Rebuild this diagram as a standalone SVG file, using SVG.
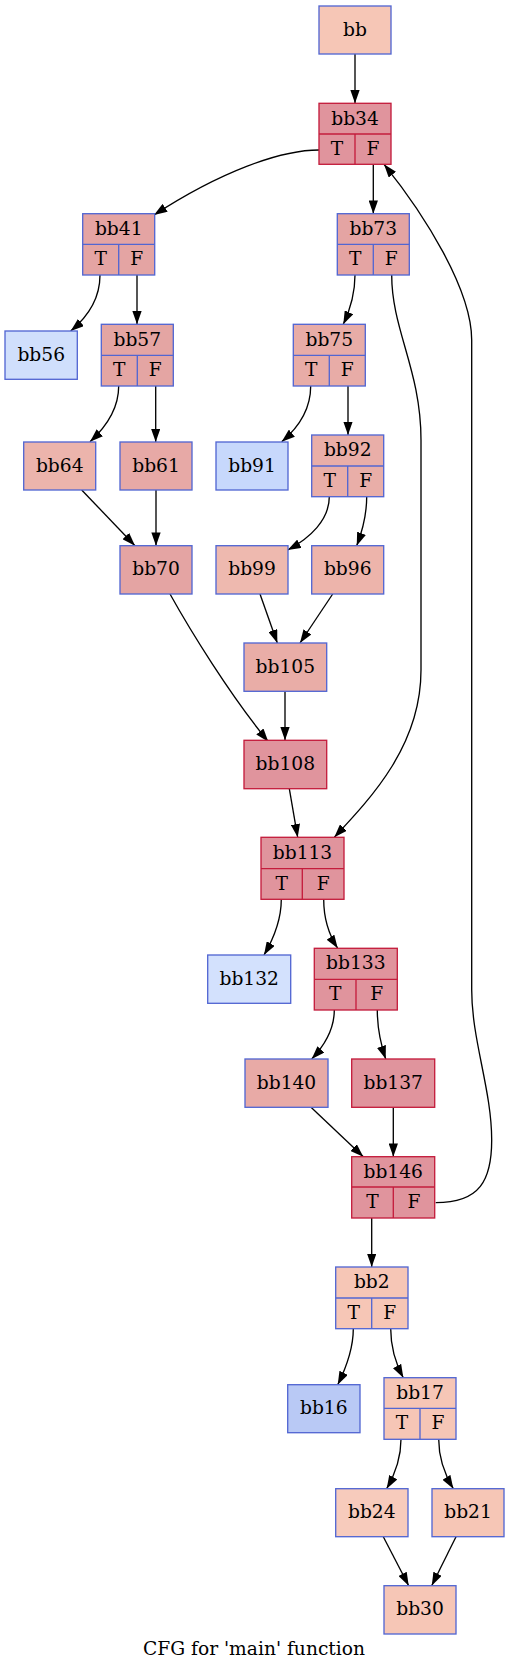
<svg xmlns="http://www.w3.org/2000/svg" width="509" height="1671" viewBox="0 0 509 1671">
<style>
text{font-family:"DejaVu Serif","Liberation Serif",serif;font-size:18.67px;text-anchor:middle;fill:#000}
.n rect,.n line{stroke-width:1.33}
.b rect,.b line{stroke:#5266d2}
.r rect,.r line{stroke:#c41c3c}
.e path{fill:none;stroke:#000;stroke-width:1.33}
</style>
<defs>
<marker id="a" viewBox="0 0 10 7" refX="10" refY="3.5" markerWidth="13.3" markerHeight="9.3" markerUnits="userSpaceOnUse" orient="auto">
<path d="M0,0 L10,3.5 L0,7 z" fill="#000"/>
</marker>
</defs>
<rect width="509" height="1671" fill="#fff"/>
<g class="e">
<path d="M355,54 L355,103.3" marker-end="url(#a)"/>
<path d="M319,150 C280,150 220,172 154,215" marker-end="url(#a)"/>
<path d="M373.3,164.3 L373.3,213.7" marker-end="url(#a)"/>
<path d="M435.7,1202.7 C480,1202.7 491.7,1180 491.7,1140 C491.7,1090 471.7,1040 471.7,990 L471.7,340 C471.7,290 425,215 384,164.3" marker-end="url(#a)"/>
<path d="M100,275 C100,295 90,315 70.7,331" marker-end="url(#a)"/>
<path d="M137,275 L137,324.3" marker-end="url(#a)"/>
<path d="M355,275 C355,295 350,310 343.3,324.3" marker-end="url(#a)"/>
<path d="M391.7,275 C391.7,330 421,370 421,440 L421,670 C421,745 372,797 334.3,837.3" marker-end="url(#a)"/>
<path d="M118.7,386 C118.7,410 105,428 90,441.7" marker-end="url(#a)"/>
<path d="M155.7,386 L155.7,442" marker-end="url(#a)"/>
<path d="M310.7,386 C310.7,410 298,428 281.7,441.7" marker-end="url(#a)"/>
<path d="M348,386 L348,435" marker-end="url(#a)"/>
<path d="M81.7,490 L135,545.7" marker-end="url(#a)"/>
<path d="M156,490 L156,545.7" marker-end="url(#a)"/>
<path d="M329.3,496.7 C329.3,520 310,538 287.7,550" marker-end="url(#a)"/>
<path d="M366.7,496.7 C366.7,515 362,532 356.7,545.7" marker-end="url(#a)"/>
<path d="M170,594 C190,630 230,695 268.3,741.7" marker-end="url(#a)"/>
<path d="M260,594 L277.3,643" marker-end="url(#a)"/>
<path d="M332.7,594 L300,643" marker-end="url(#a)"/>
<path d="M285,691.3 L285,740.3" marker-end="url(#a)"/>
<path d="M289.3,788.7 L297.7,837.3" marker-end="url(#a)"/>
<path d="M281.3,899.3 C281.3,920 274,938 264,955" marker-end="url(#a)"/>
<path d="M323.7,899.3 C323.7,918 329,935 337.7,948.3" marker-end="url(#a)"/>
<path d="M334.3,1010 C334.3,1030 324,1046 311.7,1059" marker-end="url(#a)"/>
<path d="M377.3,1010 C377.3,1028 381,1045 385.7,1059" marker-end="url(#a)"/>
<path d="M311,1107.3 L363.3,1156.7" marker-end="url(#a)"/>
<path d="M393.3,1107.3 L393.3,1156.7" marker-end="url(#a)"/>
<path d="M371.7,1218 L371.7,1267" marker-end="url(#a)"/>
<path d="M353.3,1328.7 C353.3,1350 346,1368 337.7,1384.7" marker-end="url(#a)"/>
<path d="M390.7,1328.7 C390.7,1348 396,1364 403.3,1377.7" marker-end="url(#a)"/>
<path d="M401,1439.3 C401,1460 394,1476 386.7,1488.7" marker-end="url(#a)"/>
<path d="M438.7,1439.3 C438.7,1458 445,1475 453.3,1488.7" marker-end="url(#a)"/>
<path d="M383.3,1536.7 L408.7,1585.7" marker-end="url(#a)"/>
<path d="M456,1536.7 L431.7,1585.7" marker-end="url(#a)"/>
</g>

<g id="bb" class="n b"><rect x="319" y="6" width="72" height="48" fill="#f6c6b6"/><text x="355" y="35.5">bb</text></g>
<g id="bb34" class="n r"><rect x="319" y="103.3" width="72" height="61" fill="#e0949d"/><line x1="319" y1="134" x2="391" y2="134"/><line x1="355" y1="134" x2="355" y2="164.3"/><text x="355" y="124.5">bb34</text><text x="337" y="154.8">T</text><text x="373" y="154.8">F</text></g>
<g id="bb41" class="n b"><rect x="82.7" y="213.7" width="72" height="61.3" fill="#e4a4a3"/><line x1="82.7" y1="244.3" x2="154.7" y2="244.3"/><line x1="118.7" y1="244.3" x2="118.7" y2="275"/><text x="118.7" y="234.8">bb41</text><text x="100.7" y="265.2">T</text><text x="136.7" y="265.2">F</text></g>
<g id="bb73" class="n b"><rect x="337.3" y="213.7" width="72" height="61.3" fill="#e4a4a3"/><line x1="337.3" y1="244.3" x2="409.3" y2="244.3"/><line x1="373.3" y1="244.3" x2="373.3" y2="275"/><text x="373.3" y="234.8">bb73</text><text x="355.3" y="265.2">T</text><text x="391.3" y="265.2">F</text></g>
<g id="bb56" class="n b"><rect x="5" y="331" width="72.3" height="48.3" fill="#d0dffc"/><text x="41.2" y="360.8">bb56</text></g>
<g id="bb57" class="n b"><rect x="101.3" y="324.3" width="72" height="61.7" fill="#e4a5a3"/><line x1="101.3" y1="355.3" x2="173.3" y2="355.3"/><line x1="137.3" y1="355.3" x2="137.3" y2="386"/><text x="137.3" y="345.5">bb57</text><text x="119.3" y="376.2">T</text><text x="155.3" y="376.2">F</text></g>
<g id="bb75" class="n b"><rect x="293.3" y="324.3" width="72" height="61.7" fill="#e8aca7"/><line x1="293.3" y1="355.3" x2="365.3" y2="355.3"/><line x1="329.3" y1="355.3" x2="329.3" y2="386"/><text x="329.3" y="345.5">bb75</text><text x="311.3" y="376.2">T</text><text x="347.3" y="376.2">F</text></g>
<g id="bb64" class="n b"><rect x="23.7" y="442" width="72" height="48" fill="#ecb4ac"/><text x="59.7" y="471.6">bb64</text></g>
<g id="bb61" class="n b"><rect x="120" y="442" width="72" height="48" fill="#e7a9a6"/><text x="156" y="471.6">bb61</text></g>
<g id="bb91" class="n b"><rect x="216" y="442" width="72" height="48" fill="#c7d8fc"/><text x="252" y="471.6">bb91</text></g>
<g id="bb92" class="n b"><rect x="311.7" y="435" width="72" height="61.7" fill="#e9aea8"/><line x1="311.7" y1="466" x2="383.7" y2="466"/><line x1="347.7" y1="466" x2="347.7" y2="496.7"/><text x="347.7" y="456.2">bb92</text><text x="329.7" y="486.9">T</text><text x="365.7" y="486.9">F</text></g>
<g id="bb70" class="n b"><rect x="120" y="545.7" width="72" height="48.3" fill="#e4a4a3"/><text x="156" y="575.4">bb70</text></g>
<g id="bb99" class="n b"><rect x="216" y="545.7" width="72" height="48.3" fill="#eeb9af"/><text x="252" y="575.4">bb99</text></g>
<g id="bb96" class="n b"><rect x="311.7" y="545.7" width="72" height="48.3" fill="#edb4ab"/><text x="347.7" y="575.4">bb96</text></g>
<g id="bb105" class="n b"><rect x="244" y="643" width="82.7" height="48.3" fill="#e9ada7"/><text x="285.3" y="672.7">bb105</text></g>
<g id="bb108" class="n r"><rect x="244" y="740.3" width="82.7" height="48.4" fill="#e0949d"/><text x="285.3" y="770">bb108</text></g>
<g id="bb113" class="n r"><rect x="261" y="837.3" width="83" height="62" fill="#e0949d"/><line x1="261" y1="868.7" x2="344" y2="868.7"/><line x1="302.3" y1="868.7" x2="302.3" y2="899.3"/><text x="302.5" y="858.6">bb113</text><text x="281.7" y="889.6">T</text><text x="323.2" y="889.6">F</text></g>
<g id="bb132" class="n b"><rect x="207.7" y="955" width="83" height="48.3" fill="#d3e1fd"/><text x="249.2" y="984.7">bb132</text></g>
<g id="bb133" class="n r"><rect x="314.3" y="948.3" width="83" height="61.7" fill="#e0949d"/><line x1="314.3" y1="979.3" x2="397.3" y2="979.3"/><line x1="356" y1="979.3" x2="356" y2="1010"/><text x="355.8" y="969.4">bb133</text><text x="335.2" y="1000.2">T</text><text x="376.7" y="1000.2">F</text></g>
<g id="bb140" class="n b"><rect x="245" y="1059" width="83" height="48.3" fill="#e8aaa6"/><text x="286.5" y="1088.7">bb140</text></g>
<g id="bb137" class="n r"><rect x="351.7" y="1059" width="83" height="48.3" fill="#e0949d"/><text x="393.2" y="1088.7">bb137</text></g>
<g id="bb146" class="n r"><rect x="351.7" y="1156.7" width="83" height="61.3" fill="#e0949d"/><line x1="351.7" y1="1187" x2="434.7" y2="1187"/><line x1="393.3" y1="1187" x2="393.3" y2="1218"/><text x="393.2" y="1177.5">bb146</text><text x="372.5" y="1208">T</text><text x="414" y="1208">F</text></g>
<g id="bb2" class="n b"><rect x="335.7" y="1267" width="72.3" height="61.7" fill="#f6c6b6"/><line x1="335.7" y1="1298" x2="408" y2="1298"/><line x1="371.7" y1="1298" x2="371.7" y2="1328.7"/><text x="371.8" y="1288.2">bb2</text><text x="353.7" y="1318.9">T</text><text x="389.8" y="1318.9">F</text></g>
<g id="bb16" class="n b"><rect x="287.7" y="1384.7" width="72.3" height="48" fill="#b9c9f5"/><text x="323.8" y="1414.3">bb16</text></g>
<g id="bb17" class="n b"><rect x="384" y="1377.7" width="72" height="61.6" fill="#f6c6b6"/><line x1="384" y1="1408.3" x2="456" y2="1408.3"/><line x1="420" y1="1408.3" x2="420" y2="1439.3"/><text x="420" y="1398.8">bb17</text><text x="402" y="1429.4">T</text><text x="438" y="1429.4">F</text></g>
<g id="bb24" class="n b"><rect x="335.7" y="1488.7" width="72.3" height="48" fill="#f7cbbc"/><text x="371.8" y="1518.3">bb24</text></g>
<g id="bb21" class="n b"><rect x="432" y="1488.7" width="72" height="48" fill="#f6c6b6"/><text x="468" y="1518.3">bb21</text></g>
<g id="bb30" class="n b"><rect x="384" y="1585.7" width="72" height="48.3" fill="#f6c6b6"/><text x="420" y="1615.4">bb30</text></g>
<text x="254" y="1655">CFG for 'main' function</text>
</svg>
